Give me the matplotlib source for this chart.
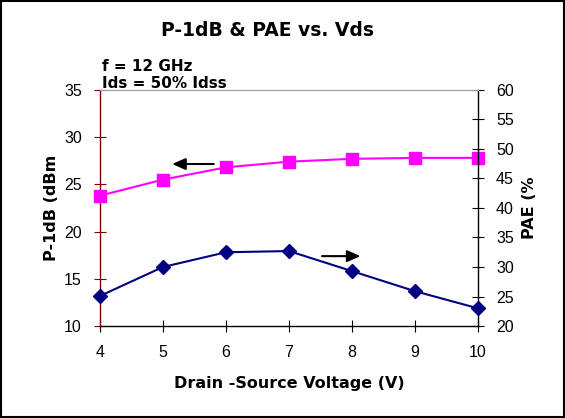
import matplotlib
matplotlib.use("Agg")
import matplotlib.pyplot as plt
from matplotlib.patches import Rectangle

plt.rcParams['font.family'] = ['Liberation Sans', 'DejaVu Sans']

vds = [4, 5, 6, 7, 8, 9, 10]
p1db = [23.8, 25.5, 26.8, 27.4, 27.7, 27.8, 27.8]
pae = [25.1, 30.0, 32.5, 32.7, 29.3, 25.9, 23.0]
left_ticks = [10, 15, 20, 25, 30, 35]
right_ticks = [20, 25, 30, 35, 40, 45, 50, 55, 60]

bold_font = ['DejaVu Sans']

fig = plt.figure(figsize=(5.65, 4.18), dpi=100)
fig.patches.append(Rectangle((0.002, 0.003), 0.996, 0.994, transform=fig.transFigure,
                             fill=False, edgecolor='black', linewidth=1.5))
ax = fig.add_axes([0.177, 0.220, 0.669, 0.565])
ax2 = ax.twinx()

ax.plot(vds, p1db, color='#FF00FF', marker='s', markersize=9, linewidth=1.5, clip_on=False, zorder=5)
ax2.plot(vds, pae, color='#000080', marker='D', markersize=7, linewidth=1.5, clip_on=False, zorder=5)

ax.set_xlim(4, 10)
ax.set_ylim(10, 35)
ax2.set_ylim(20, 60)
ax.set_xticks(vds)
ax.set_yticks(left_ticks)
ax2.set_yticks(right_ticks)

for a in (ax, ax2):
    a.spines['top'].set_color('#A0A0A0')
    a.spines['top'].set_linewidth(0.8)
ax.spines['left'].set_color('#800000')
ax.spines['left'].set_linewidth(1.0)
ax2.spines['left'].set_visible(False)
ax.spines['right'].set_visible(False)
ax2.spines['right'].set_color('black')
ax2.spines['right'].set_linewidth(1.0)
ax.spines['bottom'].set_color('black')
ax.spines['bottom'].set_linewidth(1.0)
ax2.spines['bottom'].set_visible(False)

ax.tick_params(axis='y', direction='inout', length=8, color='#800000', labelsize=11.5, pad=9)
ax2.tick_params(axis='y', direction='inout', length=8, color='black', labelsize=11.5, pad=9)
ax.tick_params(axis='x', direction='inout', length=8, color='black', labelsize=11.5, pad=10)

ax.set_xlabel('Drain -Source Voltage (V)', fontsize=11.5, fontweight='bold', labelpad=11, family=bold_font)
ax.set_ylabel('P-1dB (dBm', fontsize=11.5, fontweight='bold', labelpad=4, family=bold_font)
ax2.set_ylabel('PAE (%', fontsize=11.5, fontweight='bold', labelpad=6, family=bold_font)

ax.annotate('', xy=(5.1, 27.15), xytext=(5.85, 27.15),
            arrowprops=dict(arrowstyle='-|>,head_length=0.8,head_width=0.35', color='black', lw=1.5))
ax.annotate('', xy=(8.18, 17.4), xytext=(7.48, 17.4),
            arrowprops=dict(arrowstyle='-|>,head_length=0.8,head_width=0.35', color='black', lw=1.5))

fig.text(0.473, 0.928, 'P-1dB & PAE vs. Vds', ha='center', va='center', fontsize=13.5, fontweight='bold', family=bold_font)
fig.text(0.181, 0.842, 'f = 12 GHz', ha='left', va='center', fontsize=11, fontweight='bold', family=bold_font)
fig.text(0.181, 0.800, 'Ids = 50% Idss', ha='left', va='center', fontsize=11, fontweight='bold', family=bold_font)

fig.savefig('out.png', dpi=100)
